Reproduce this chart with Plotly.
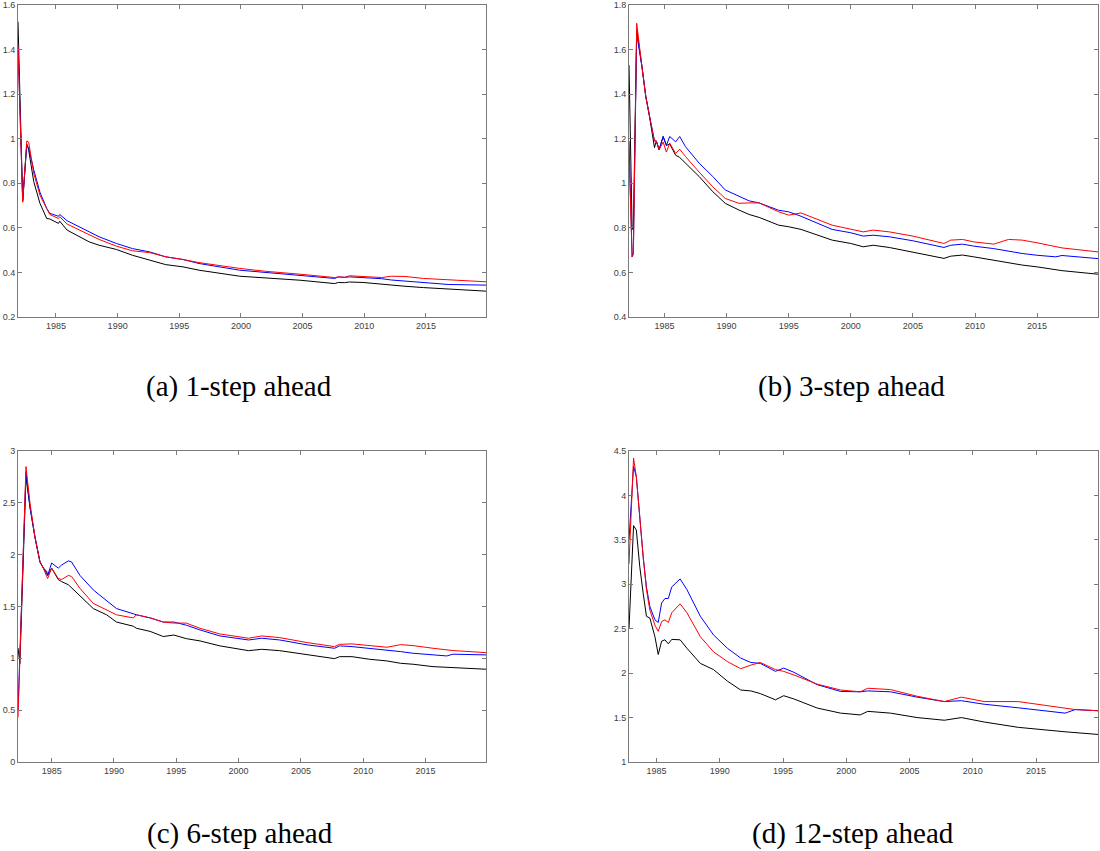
import plotly.graph_objects as go

# ---------------- data ----------------
# (a) 1-step ahead
years_a = [1981.92, 1982.3, 1982.63, 1982.78, 1983.2, 1983.7, 1984.25, 1984.5, 1985.2, 1985.3,
           1985.9, 1986.9, 1987.7, 1988.5, 1989.9, 1991.2, 1992.6, 1993.9, 1995.3, 1996.6,
           1999.9, 2002.0, 2004.8, 2007.6, 2007.9, 2008.4, 2008.8, 2009.9, 2011.4, 2012.2,
           2013.3, 2014.8, 2016.8, 2019.87]
black_a = [1.525, 0.72, 0.976, 0.95, 0.807, 0.71, 0.642, 0.64, 0.62, 0.63,
           0.59, 0.56, 0.537, 0.522, 0.503, 0.477, 0.455, 0.435, 0.425, 0.41,
           0.383, 0.375, 0.365, 0.35, 0.355, 0.354, 0.357, 0.355, 0.346, 0.343,
           0.338, 0.332, 0.326, 0.316]
blue_a = [1.42, 0.725, 0.97, 0.96, 0.86, 0.76, 0.687, 0.665, 0.652, 0.66,
          0.632, 0.605, 0.582, 0.56, 0.53, 0.507, 0.492, 0.47, 0.458, 0.44,
          0.41, 0.40, 0.388, 0.373, 0.38, 0.378, 0.38, 0.377, 0.372, 0.366,
          0.361, 0.352, 0.346, 0.343]
red_a = [1.42, 0.715, 0.99, 0.985, 0.844, 0.747, 0.687, 0.66, 0.642, 0.65,
         0.617, 0.59, 0.567, 0.548, 0.518, 0.497, 0.489, 0.47, 0.458, 0.444,
         0.418, 0.405, 0.392, 0.377, 0.38, 0.378, 0.385, 0.382, 0.377, 0.383,
         0.382, 0.373, 0.366, 0.358]

# (b) 3-step ahead
years_b = [1982.15, 1982.4, 1982.5, 1982.77, 1983.2, 1983.5, 1983.77, 1984.2, 1984.35, 1984.57,
           1984.9, 1985.16, 1985.43, 1985.9, 1986.23, 1986.7, 1987.8, 1988.9, 1989.9, 1991.0,
           1991.82, 1992.62, 1994.2, 1995.0, 1996.0, 1998.5, 2000.0, 2001.0, 2001.8, 2003.1,
           2005.0, 2007.5, 2008.05, 2009.0, 2009.9, 2011.5, 2012.7, 2013.8, 2015.0, 2016.5,
           2017.0, 2019.9]
black_b = [1.53, 0.80, 0.79, 1.69, 1.52, 1.39, 1.31, 1.16, 1.19, 1.15,
           1.21, 1.17, 1.176, 1.126, 1.116, 1.09, 1.03, 0.962, 0.91, 0.88,
           0.86, 0.847, 0.812, 0.805, 0.793, 0.745, 0.73, 0.715, 0.722, 0.712,
           0.692, 0.663, 0.673, 0.678, 0.67, 0.655, 0.643, 0.633, 0.625, 0.613,
           0.608, 0.592]
blue_b = [1.19, 0.67, 0.69, 1.67, 1.52, 1.39, 1.31, 1.19, 1.19, 1.15,
          1.21, 1.17, 1.21, 1.186, 1.21, 1.164, 1.09, 1.03, 0.97, 0.94,
          0.921, 0.912, 0.879, 0.872, 0.852, 0.793, 0.778, 0.763, 0.767, 0.76,
          0.742, 0.712, 0.722, 0.727, 0.718, 0.707, 0.695, 0.685, 0.677, 0.67,
          0.676, 0.662]
red_b = [1.14, 0.67, 0.68, 1.718, 1.52, 1.39, 1.31, 1.19, 1.19, 1.15,
         1.185, 1.14, 1.18, 1.134, 1.153, 1.12, 1.05, 0.984, 0.932, 0.91,
         0.912, 0.912, 0.872, 0.857, 0.867, 0.812, 0.794, 0.782, 0.79, 0.782,
         0.763, 0.73, 0.745, 0.748, 0.737, 0.727, 0.748, 0.745, 0.733, 0.715,
         0.71, 0.692]

# (c) 6-step ahead
years_c = [1982.3, 1982.45, 1982.94, 1983.26, 1983.66, 1984.06, 1984.33, 1984.6, 1984.68, 1985.0,
           1985.53, 1985.8, 1986.34, 1986.6, 1987.27, 1988.34, 1989.41, 1990.2, 1991.55, 1991.8,
           1992.9, 1993.96, 1994.8, 1995.8, 1996.9, 1998.5, 2000.8, 2001.85, 2003.3, 2005.5,
           2007.7, 2008.1, 2009.1, 2010.5, 2011.9, 2013.0, 2014.0, 2015.6, 2016.7, 2017.2,
           2019.85]
black_c = [1.10, 0.95, 2.75, 2.46, 2.17, 1.93, 1.87, 1.84, 1.80, 1.87,
           1.76, 1.74, 1.71, 1.68, 1.595, 1.48, 1.42, 1.35, 1.31, 1.29,
           1.26, 1.21, 1.225, 1.19, 1.168, 1.12, 1.074, 1.087, 1.074, 1.033,
           0.997, 1.016, 1.016, 0.991, 0.975, 0.952, 0.943, 0.92, 0.914, 0.91,
           0.895]
blue_c = [0.50, 1.03, 2.80, 2.46, 2.17, 1.93, 1.87, 1.82, 1.80, 1.92,
          1.87, 1.90, 1.94, 1.93, 1.80, 1.66, 1.56, 1.48, 1.43, 1.42,
          1.39, 1.35, 1.35, 1.32, 1.274, 1.216, 1.177, 1.194, 1.177, 1.13,
          1.097, 1.12, 1.113, 1.097, 1.075, 1.065, 1.049, 1.033, 1.023, 1.04,
          1.033]
red_c = [0.43, 0.99, 2.85, 2.50, 2.17, 1.93, 1.87, 1.79, 1.77, 1.87,
         1.77, 1.76, 1.80, 1.79, 1.675, 1.53, 1.47, 1.42, 1.39, 1.42,
         1.39, 1.35, 1.34, 1.34, 1.29, 1.235, 1.194, 1.216, 1.2, 1.152,
         1.113, 1.135, 1.139, 1.12, 1.107, 1.132, 1.123, 1.097, 1.08, 1.075,
         1.055]

# (d) 12-step ahead
years_d = [1982.82, 1983.18, 1983.4, 1983.67, 1983.94, 1984.2, 1984.47, 1984.87, 1985.13, 1985.4,
           1985.66, 1985.93, 1986.2, 1986.86, 1987.4, 1988.46, 1989.5, 1990.6, 1991.65, 1992.45,
           1993.2, 1994.4, 1995.05, 1995.85, 1997.7, 1999.55, 2001.1, 2001.7, 2003.5, 2005.6,
           2007.75, 2009.1, 2010.9, 2013.6, 2017.3, 2018.1, 2019.9]
black_d = [2.5, 3.66, 3.61, 3.2, 2.9, 2.64, 2.62, 2.41, 2.21, 2.36,
           2.375, 2.33, 2.38, 2.375, 2.28, 2.11, 2.04, 1.91, 1.81, 1.80,
           1.77, 1.70, 1.746, 1.71, 1.607, 1.55, 1.53, 1.57, 1.55, 1.50,
           1.47, 1.50, 1.45, 1.39, 1.34, 1.33, 1.31]
blue_d = [3.5, 4.33, 4.21, 3.72, 3.31, 2.97, 2.75, 2.60, 2.57, 2.79,
          2.84, 2.84, 2.97, 3.06, 2.94, 2.64, 2.43, 2.28, 2.17, 2.12,
          2.11, 2.02, 2.057, 2.01, 1.87, 1.794, 1.79, 1.80, 1.79, 1.73,
          1.68, 1.69, 1.65, 1.61, 1.55, 1.59, 1.577]
red_d = [3.23, 4.42, 4.21, 3.72, 3.31, 2.94, 2.71, 2.54, 2.47, 2.58,
         2.60, 2.57, 2.68, 2.78, 2.68, 2.41, 2.24, 2.13, 2.05, 2.09,
         2.12, 2.04, 2.02, 1.98, 1.876, 1.81, 1.79, 1.83, 1.815, 1.74,
         1.68, 1.73, 1.68, 1.68, 1.61, 1.59, 1.577]

x_ticks = [1985, 1990, 1995, 2000, 2005, 2010, 2015]
x_ticklabels = ["1985", "1990", "1995", "2000", "2005", "2010", "2015"]
y_ticks_a = [0.2, 0.4, 0.6, 0.8, 1.0, 1.2, 1.4, 1.6]
y_labels_a = ["0.2", "0.4", "0.6", "0.8", "1", "1.2", "1.4", "1.6"]
y_ticks_b = [0.4, 0.6, 0.8, 1.0, 1.2, 1.4, 1.6, 1.8]
y_labels_b = ["0.4", "0.6", "0.8", "1", "1.2", "1.4", "1.6", "1.8"]
y_ticks_c = [0, 0.5, 1, 1.5, 2, 2.5, 3]
y_labels_c = ["0", "0.5", "1", "1.5", "2", "2.5", "3"]
y_ticks_d = [1, 1.5, 2, 2.5, 3, 3.5, 4, 4.5]
y_labels_d = ["1", "1.5", "2", "2.5", "3", "3.5", "4", "4.5"]
captions = ["(a) 1-step ahead", "(b) 3-step ahead", "(c) 6-step ahead", "(d) 12-step ahead"]

# ---------------- layout geometry ----------------
W, H = 1100, 851
def xd(x0, x1):
    return [x0 / W, x1 / W]
def yd(top, bottom):
    return [1 - bottom / H, 1 - top / H]

panels = [
    dict(years=years_a, k=black_a, b=blue_a, r=red_a, xr=[1981.92, 2019.87], yr=[0.2, 1.6],
         yt=y_ticks_a, yl=y_labels_a, xdom=xd(18, 486), ydom=yd(5, 317), cap=(239, 387)),
    dict(years=years_b, k=black_b, b=blue_b, r=red_b, xr=[1982.15, 2019.9], yr=[0.4, 1.8],
         yt=y_ticks_b, yl=y_labels_b, xdom=xd(629, 1098), ydom=yd(5, 317), cap=(851, 387)),
    dict(years=years_c, k=black_c, b=blue_c, r=red_c, xr=[1982.3, 2019.85], yr=[0, 3],
         yt=y_ticks_c, yl=y_labels_c, xdom=xd(18, 486), ydom=yd(451, 762), cap=(240, 833)),
    dict(years=years_d, k=black_d, b=blue_d, r=red_d, xr=[1982.82, 2019.9], yr=[1, 4.5],
         yt=y_ticks_d, yl=y_labels_d, xdom=xd(629, 1098), ydom=yd(451, 762), cap=(853, 833)),
]

fig = go.Figure()
axcol = "#7a7a7a"
tickfont = dict(family="Liberation Sans, Arial, sans-serif", size=9, color="#404040")
annotations = []
for i, p in enumerate(panels):
    n = "" if i == 0 else str(i + 1)
    xa, ya = "x" + n, "y" + n
    for ser, col in ((p["k"], "#000000"), (p["b"], "#0000ff"), (p["r"], "#ff0000")):
        fig.add_trace(go.Scatter(x=p["years"], y=ser, mode="lines", xaxis=xa, yaxis=ya,
                                 line=dict(color=col, width=1), showlegend=False,
                                 hoverinfo="skip"))
    common = dict(showline=True, linecolor=axcol, linewidth=1, mirror="ticks",
                  ticks="inside", ticklen=4, tickcolor=axcol, tickwidth=1,
                  showgrid=False, zeroline=False, tickfont=tickfont, automargin=False,
                  ticklabeloverflow="allow")
    fig.update_layout(**{
        "xaxis" + n: dict(domain=p["xdom"], range=p["xr"], anchor=ya,
                          tickmode="array", tickvals=x_ticks, ticktext=x_ticklabels, **common),
        "yaxis" + n: dict(domain=p["ydom"], range=p["yr"], anchor=xa,
                          tickmode="array", tickvals=p["yt"], ticktext=p["yl"], **common),
    })
    annotations.append(dict(text=captions[i], xref="paper", yref="paper",
                            x=p["cap"][0] / W, y=1 - p["cap"][1] / H,
                            xanchor="center", yanchor="middle", showarrow=False,
                            font=dict(family="Liberation Serif, serif", size=29,
                                      color="#000000")))

fig.update_layout(width=W, height=H, margin=dict(l=0, r=0, t=0, b=0),
                  paper_bgcolor="white", plot_bgcolor="white",
                  annotations=annotations, hovermode=False)
fig.write_html("out.html", config={"displayModeBar": False, "staticPlot": True},
               post_script="document.body.style.margin='0';"
                           "document.body.style.overflow='hidden';")
